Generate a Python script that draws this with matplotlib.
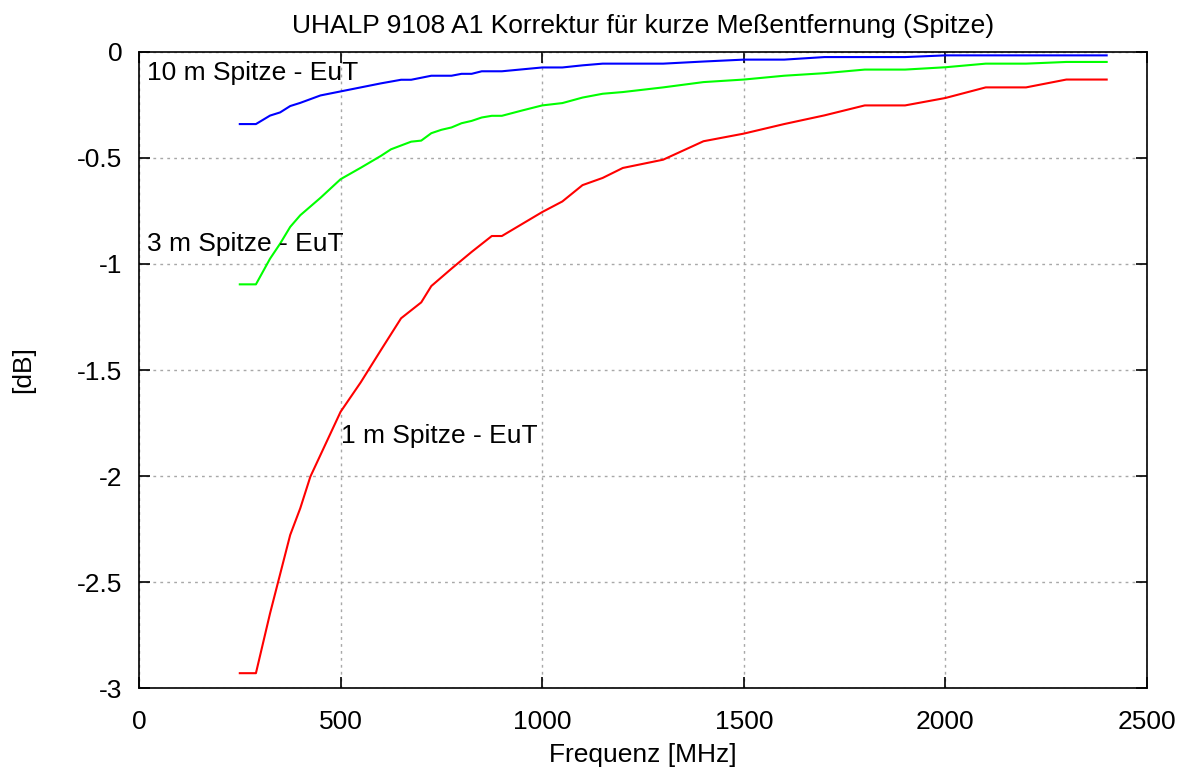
import matplotlib
matplotlib.use('Agg')
import matplotlib.pyplot as plt
from matplotlib.ticker import FuncFormatter

# 10 m Spitze - EuT
freq_10m = [250, 290, 325, 350, 375, 400, 450, 500, 550, 600, 650, 675, 725, 775, 800, 825, 850, 900,
            950, 1000, 1050, 1100, 1150, 1200, 1300, 1400, 1500, 1600, 1700, 1800, 1900, 2000, 2100,
            2200, 2300, 2400]
corr_10m = [-0.34, -0.34, -0.30, -0.285, -0.255, -0.24, -0.205, -0.186, -0.167, -0.148, -0.131, -0.131,
            -0.112, -0.112, -0.103, -0.103, -0.091, -0.091, -0.082, -0.073, -0.073, -0.063, -0.055,
            -0.055, -0.055, -0.045, -0.036, -0.036, -0.024, -0.024, -0.024, -0.016, -0.016, -0.016,
            -0.016, -0.016]

# 3 m Spitze - EuT
freq_3m = [250, 290, 325, 350, 375, 400, 450, 500, 550, 600, 625, 675, 700, 725, 750, 775, 800, 825,
           850, 875, 900, 950, 1000, 1050, 1100, 1150, 1200, 1300, 1400, 1500, 1600, 1700, 1800, 1900,
           2000, 2100, 2200, 2300, 2400]
corr_3m = [-1.096, -1.096, -0.975, -0.904, -0.825, -0.77, -0.688, -0.60, -0.546, -0.49, -0.459, -0.423,
           -0.418, -0.383, -0.367, -0.356, -0.336, -0.325, -0.309, -0.301, -0.301, -0.276, -0.252,
           -0.241, -0.215, -0.197, -0.189, -0.167, -0.142, -0.13, -0.112, -0.10, -0.083, -0.083,
           -0.072, -0.055, -0.055, -0.047, -0.047]

# 1 m Spitze - EuT
freq_1m = [250, 290, 325, 375, 400, 425, 500, 550, 600, 650, 700, 725, 775, 825, 875, 900, 1000, 1050,
           1100, 1150, 1200, 1300, 1400, 1500, 1600, 1700, 1800, 1900, 2000, 2100, 2200, 2300, 2400]
corr_1m = [-2.93, -2.93, -2.648, -2.278, -2.152, -2.003, -1.697, -1.558, -1.406, -1.256, -1.181, -1.104,
           -1.022, -0.943, -0.868, -0.868, -0.755, -0.705, -0.628, -0.594, -0.547, -0.508, -0.421,
           -0.385, -0.34, -0.299, -0.252, -0.252, -0.217, -0.167, -0.167, -0.13, -0.13]

labels = ["10 m Spitze - EuT", "3 m Spitze - EuT", "1 m Spitze - EuT"]

plt.rcParams['font.family'] = ['Liberation Sans', 'DejaVu Sans']
FS = 19

fig = plt.figure(figsize=(11.87, 7.69), dpi=100)
ax = fig.add_axes([0.1171, 0.1053, 0.8492, 0.8271])

ax.plot(freq_10m, corr_10m, color='#0000ff', lw=1.5)
ax.plot(freq_3m, corr_3m, color='#00ff00', lw=1.5)
ax.plot(freq_1m, corr_1m, color='#ff0000', lw=1.5)

ax.text(20, -0.10, labels[0], fontsize=FS, va='center', ha='left')
ax.text(20, -0.905, labels[1], fontsize=FS, va='center', ha='left')
ax.text(500, -1.81, labels[2], fontsize=FS, va='center', ha='left')

ax.set_xlim(0, 2500)
ax.set_ylim(-3, 0)
ax.set_xticks([0, 500, 1000, 1500, 2000, 2500])
ax.set_yticks([-3, -2.5, -2, -1.5, -1, -0.5, 0])
ax.yaxis.set_major_formatter(FuncFormatter(lambda v, p: '%g' % v))

ax.grid(True, color='#a8a8a8', linestyle=(0, (2, 3)), linewidth=1.0)
ax.tick_params(direction='in', length=8, width=1.2, top=True, right=True, labelsize=FS)
ax.tick_params(axis='x', pad=16)
ax.tick_params(axis='y', pad=12)
for s in ax.spines.values():
    s.set_linewidth(1.2)

ax.set_title("UHALP 9108 A1 Korrektur für kurze Meßentfernung (Spitze)", fontsize=FS, pad=14)
ax.set_xlabel("Frequenz [MHz]", fontsize=FS, labelpad=6)
ax.set_ylabel("[dB]", fontsize=FS, labelpad=30)

fig.savefig('out.png', dpi=100)
